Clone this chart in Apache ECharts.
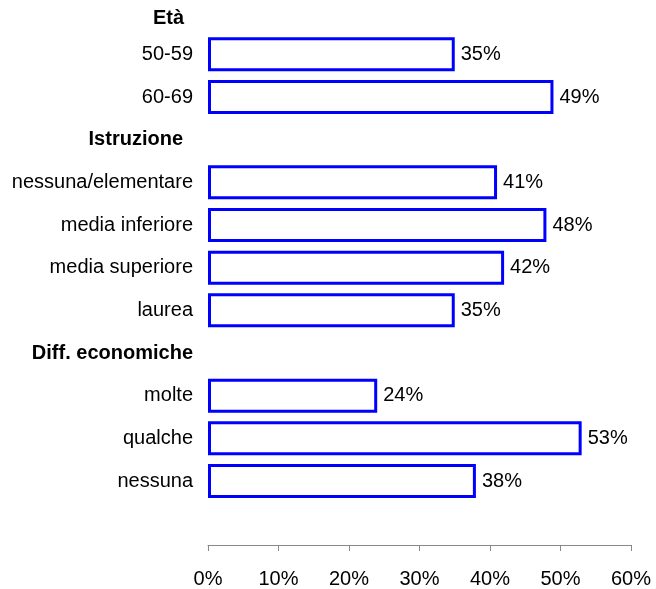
<!DOCTYPE html>
<html>
<head>
    <meta charset="utf-8">
    <title>Età, istruzione, difficoltà economiche</title>
    <script src="https://cdn.jsdelivr.net/npm/echarts@6/dist/echarts.min.js"></script>
</head>
<body style="margin:0">
    <div id="chart" style="width:656px;height:589px;"></div>
    <script type="text/javascript">
        // primo titolo di gruppo, sopra l'area del grafico
        var topHeader = 'Età';
        // categorie (gli altri titoli di gruppo sono righe senza barra)
        var categories = ['50-59', '60-69', 'Istruzione', 'nessuna/elementare', 'media inferiore',
            'media superiore', 'laurea', 'Diff. economiche', 'molte', 'qualche', 'nessuna', ''];
        var headers = ['Istruzione', 'Diff. economiche'];
        var values = [35, 49, '-', 41, 48, 42, 35, '-', 24, 53, 38, '-'];
        var ticks = [0, 10, 20, 30, 40, 50, 60];

        var font = 'Liberation Sans, Arial, sans-serif';
        var chart = echarts.init(document.getElementById('chart'));

        chart.setOption({
            animation: false,
            grid: { left: 208, right: 25, top: 33, bottom: 40 },
            graphic: [{
                type: 'text',
                right: 656 - 184,
                top: 8,
                style: {
                    text: topHeader,
                    fontFamily: font,
                    fontWeight: 'bold',
                    fontSize: 20,
                    fill: '#000'
                }
            }],
            xAxis: {
                type: 'value',
                min: ticks[0],
                max: ticks[ticks.length - 1],
                interval: 10,
                splitLine: { show: false },
                axisLine: { show: true, lineStyle: { color: '#888', width: 1 } },
                axisTick: { show: true, length: 6, lineStyle: { color: '#888' } },
                axisLabel: {
                    formatter: '{value}%',
                    color: '#000',
                    fontFamily: font,
                    fontSize: 20,
                    margin: 24
                }
            },
            yAxis: {
                type: 'category',
                inverse: true,
                data: categories,
                axisLine: { show: false },
                axisTick: { show: false },
                axisLabel: {
                    margin: 15,
                    color: '#000',
                    fontFamily: font,
                    fontSize: 20,
                    formatter: function (v) {
                        if (v === 'Istruzione') return '{h2|' + v + '}';
                        if (headers.indexOf(v) >= 0) return '{h|' + v + '}';
                        return v;
                    },
                    rich: {
                        h: { fontWeight: 'bold', fontSize: 20, fontFamily: font, color: '#000' },
                        h2: { fontWeight: 'bold', fontSize: 20, fontFamily: font, color: '#000', padding: [0, 10, 0, 0] }
                    }
                }
            },
            series: [{
                type: 'bar',
                data: values,
                barWidth: 34,
                itemStyle: { color: '#fff', borderColor: '#0000ff', borderWidth: 3 },
                label: {
                    show: true,
                    position: 'right',
                    distance: 6,
                    formatter: '{c}%',
                    color: '#000',
                    fontFamily: font,
                    fontSize: 20
                }
            }]
        });
    </script>
</body>
</html>
